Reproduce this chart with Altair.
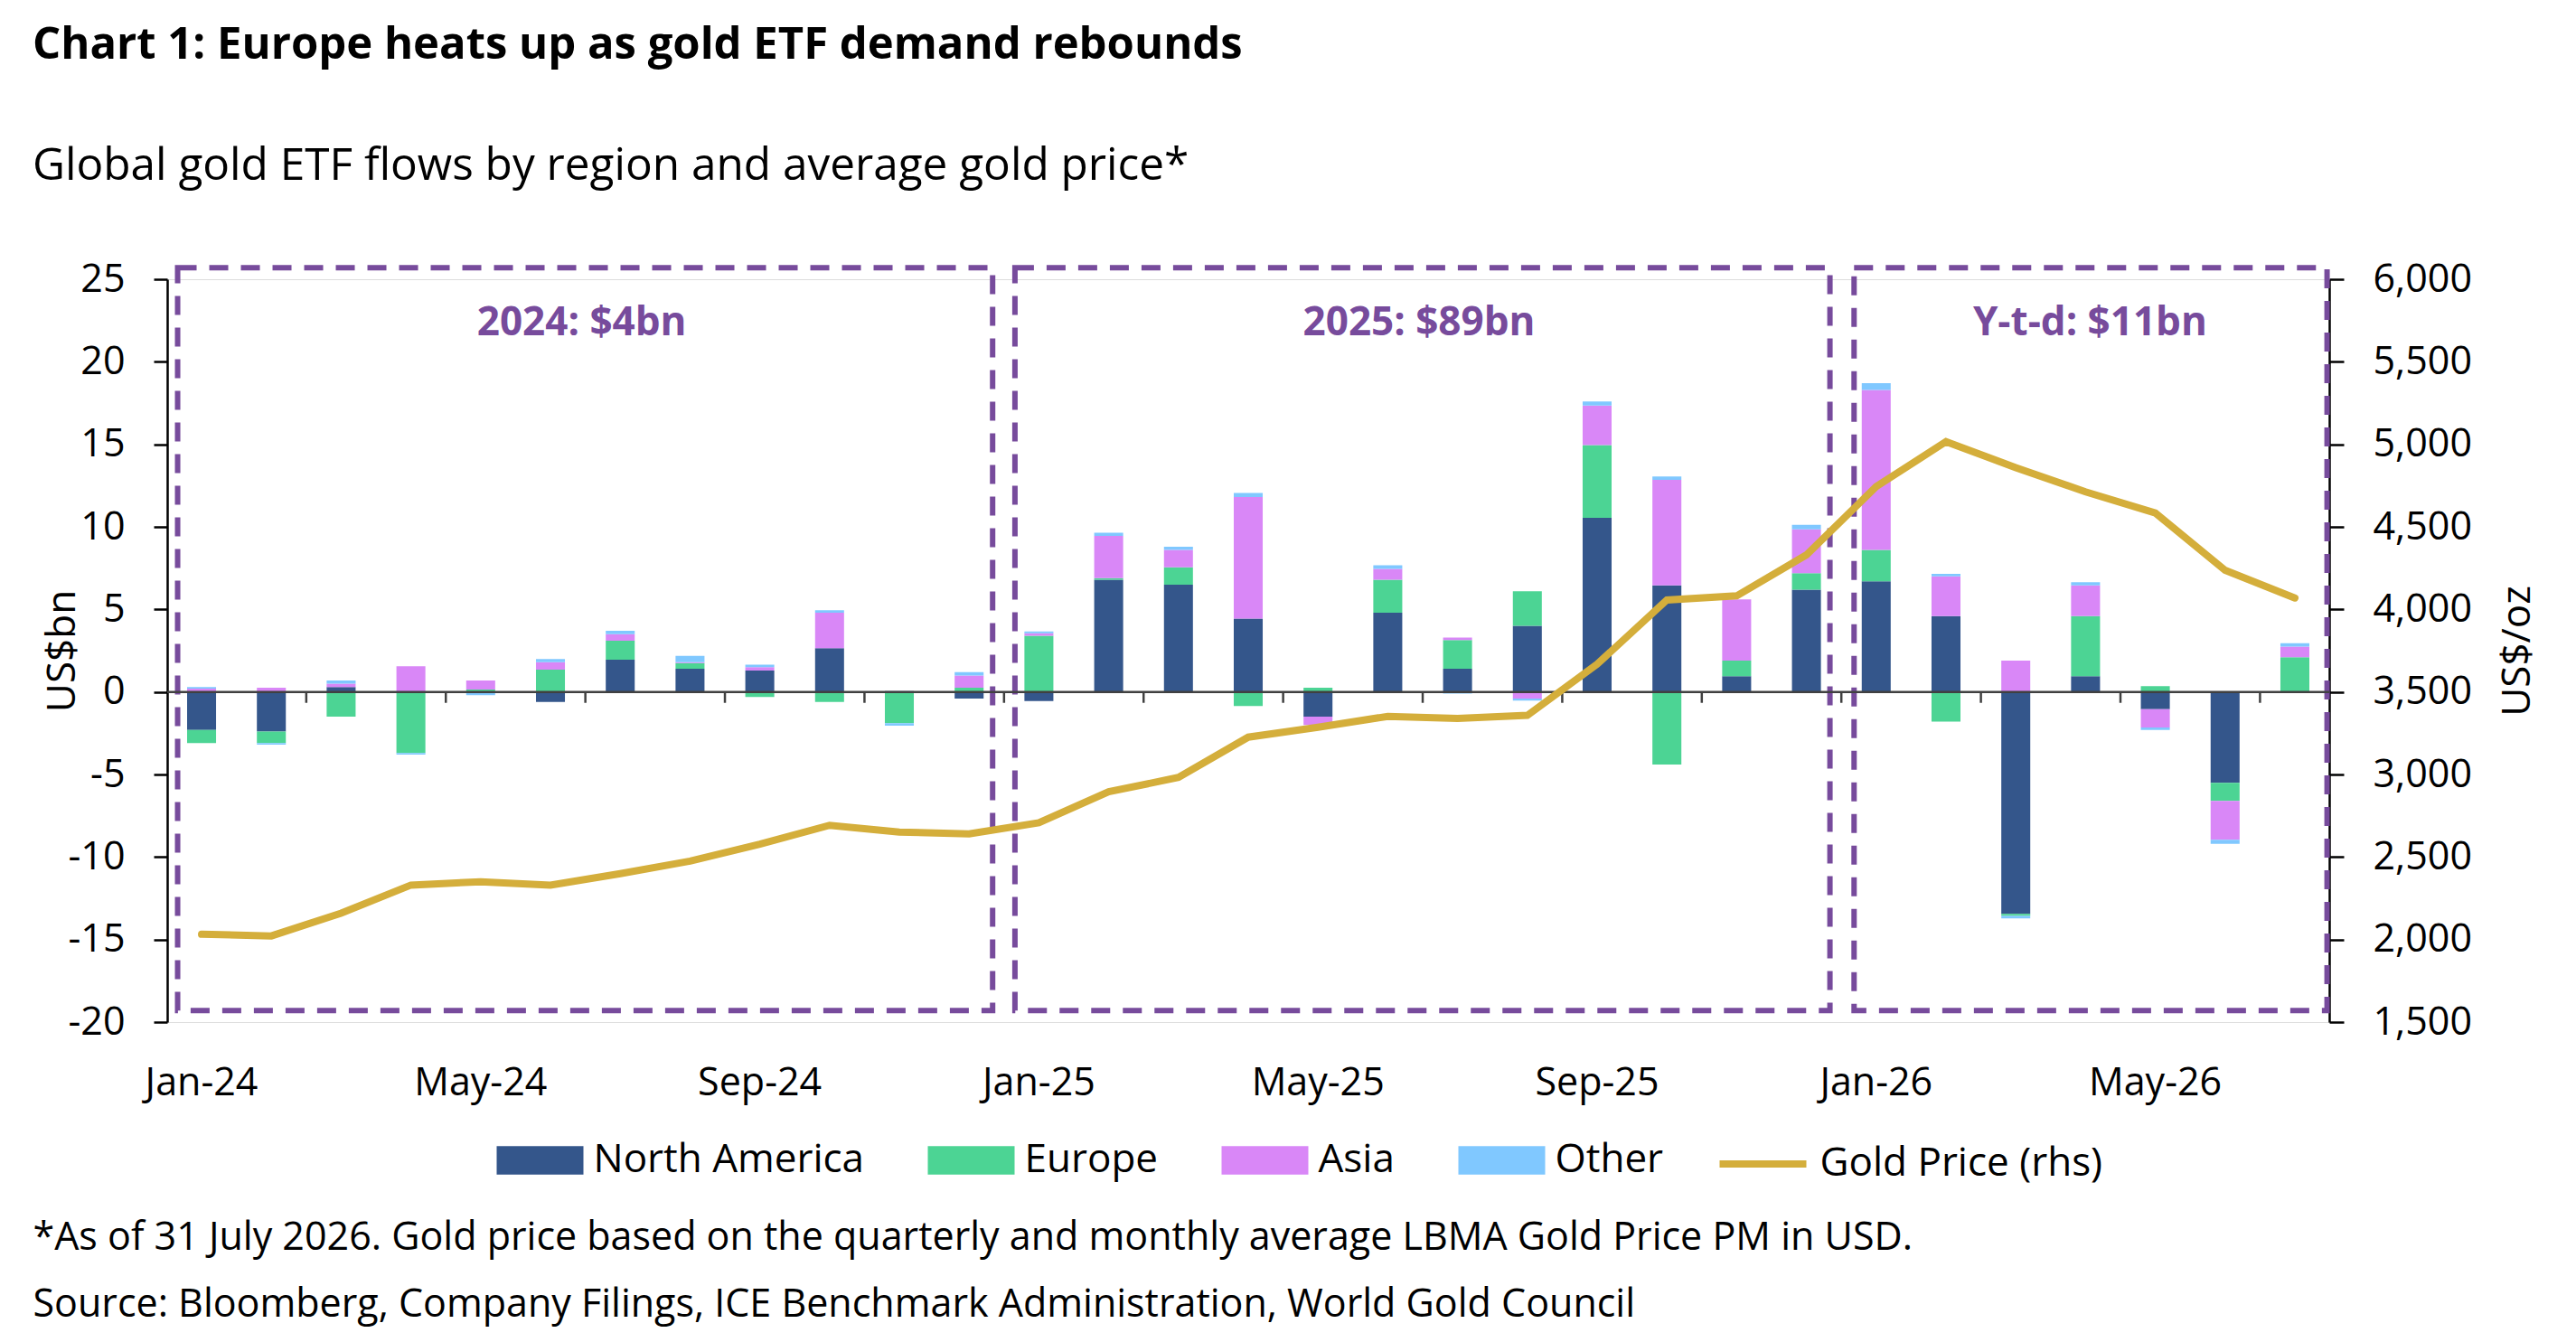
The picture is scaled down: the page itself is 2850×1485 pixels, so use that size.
import altair as alt
import pandas as pd

months = ['Jan-24', 'Feb-24', 'Mar-24', 'Apr-24', 'May-24', 'Jun-24', 'Jul-24', 'Aug-24',
          'Sep-24', 'Oct-24', 'Nov-24', 'Dec-24',
          'Jan-25', 'Feb-25', 'Mar-25', 'Apr-25', 'May-25', 'Jun-25', 'Jul-25', 'Aug-25',
          'Sep-25', 'Oct-25', 'Nov-25', 'Dec-25',
          'Jan-26', 'Feb-26', 'Mar-26', 'Apr-26', 'May-26', 'Jun-26', 'Jul-26']

north_america = [-2.3, -2.4, 0.3, 0.0, 0.0, -0.6, 1.95, 1.4, 1.3, 2.65, 0.05, -0.4,
                 -0.55, 6.8, 6.5, 4.45, -1.5, 4.8, 1.4, 4.0, 10.55, 6.45, 0.95, 6.2,
                 6.7, 4.6, -13.45, 0.95, -1.05, -5.5, 0.0]
europe = [-0.8, -0.7, -1.5, -3.7, 0.15, 1.35, 1.15, 0.35, -0.3, -0.6, -1.9, 0.25,
          3.4, 0.1, 1.05, -0.85, 0.25, 2.0, 1.75, 2.1, 4.4, -4.4, 0.95, 1.0,
          1.9, -1.8, -0.12, 3.65, 0.35, -1.1, 2.1]
asia = [0.2, 0.25, 0.2, 1.55, 0.55, 0.45, 0.4, 0.05, 0.2, 2.15, 0.0, 0.75,
        0.15, 2.55, 1.05, 7.35, -0.5, 0.65, 0.15, -0.4, 2.4, 6.4, 3.7, 2.65,
        9.7, 2.4, 1.9, 1.85, -1.1, -2.35, 0.65]
other = [0.1, -0.1, 0.2, -0.1, -0.2, 0.2, 0.2, 0.38, 0.15, 0.15, -0.15, 0.2,
         0.12, 0.2, 0.2, 0.25, 0.0, 0.22, -0.1, -0.12, 0.25, 0.2, 0.0, 0.28,
         0.4, 0.15, -0.15, 0.2, -0.15, -0.25, 0.2]
gold_price = [2032, 2022, 2160, 2330, 2350, 2330, 2399, 2475, 2578, 2692, 2651, 2640,
              2708, 2895, 2982, 3226, 3286, 3352, 3340, 3358, 3668, 4057, 4082, 4330,
              4744, 5016, 4859, 4712, 4584, 4237, 4069]

regions = ['North America', 'Europe', 'Asia', 'Other']
series_label = 'Gold Price (rhs)'
x_label_months = ['Jan-24', 'May-24', 'Sep-24', 'Jan-25', 'May-25', 'Sep-25', 'Jan-26', 'May-26']
tick_months = ['Feb-24', 'Apr-24', 'Jun-24', 'Aug-24', 'Oct-24', 'Dec-24',
               'Feb-25', 'Apr-25', 'Jun-25', 'Aug-25', 'Oct-25', 'Dec-25',
               'Feb-26', 'Apr-26', 'Jun-26']
box_start_a = ['Jan-24', 'Jan-25']
box_end_a = ['Dec-24', 'Dec-25']
box_start_b = ['Jan-26']
box_end_b = ['Jul-26']
label_anchor_a = ['Jun-24', 'Jun-25']
label_text_a = ['2024: $4bn', '2025: $89bn']
label_anchor_b = ['Apr-26']
label_text_b = ['Y-t-d: $11bn']

region_colors = ['#34568b', '#4cd494', '#d987f7', '#80c8ff']
gold_color = '#d4ae3b'
purple = '#774b9c'
FONT = 'Open Sans'
GAP = 22.6  # half of the inner band padding, in px

series = [north_america, europe, asia, other]
rows = []
for i, m in enumerate(months):
    for j, r in enumerate(regions):
        rows.append({'month': m, 'region': r, 'value': series[j][i], 'order': j})
bars_df = pd.DataFrame(rows)
gold_df = pd.DataFrame({'month': months, 'gold': gold_price, 'series': series_label})

xscale = alt.Scale(domain=months, paddingInner=0.585, paddingOuter=0.285)
yscale = alt.Scale(domain=[-20, 25], nice=False, zero=False)
y2scale = alt.Scale(domain=[1500, 6000], nice=False, zero=False)
cscale = alt.Scale(domain=regions, range=region_colors)
sscale = alt.Scale(domain=[series_label], range=[gold_color])

bar_legend = alt.Legend(
    orient='none', legendX=364.5, legendY=927, direction='horizontal', title=None,
    symbolType='M-1,-0.33L1,-0.33L1,0.33L-1,0.33Z', symbolSize=9216,
    symbolStrokeWidth=0, symbolOpacity=1,
    labelFontSize=44, labelFont=FONT, labelColor='black',
    labelOffset=11, columnPadding=70, labelLimit=2000, padding=0)

line_legend = alt.Legend(
    orient='none', legendX=1713.5, legendY=927, direction='horizontal', title=None,
    symbolType='stroke', symbolSize=9216, symbolStrokeWidth=8, symbolOpacity=1,
    labelFontSize=44, labelFont=FONT, labelColor='black',
    labelOffset=11, labelLimit=2000, padding=0)

xaxis = alt.Axis(values=x_label_months, domain=False, ticks=False, tickSize=0,
                 labelPadding=80, labelBaseline='alphabetic', labelFontSize=43,
                 labelFont=FONT, labelAngle=0, title=None, labelColor='black', grid=False)

yaxis = alt.Axis(values=list(range(-20, 26, 5)), labelExpr="'' + datum.value",
                 title='US$bn', titleX=-115.5, titleY=411, titleAngle=-90,
                 titleBaseline='middle', titleAlign='center', titleFontSize=44,
                 titleFont=FONT, titleFontWeight='normal', titleColor='black',
                 labelFontSize=43, labelFont=FONT, labelColor='black', labelPadding=32,
                 tickSize=15, tickWidth=2.5, tickColor='black', domainWidth=2.5,
                 domainColor='black', grid=False, orient='left')

y2axis = alt.Axis(values=list(range(1500, 6001, 500)), labelExpr="format(datum.value, ',')",
                  title='US$/oz', titleX=208, titleY=411, titleAngle=-90,
                  titleBaseline='middle', titleAlign='center', titleFontSize=44,
                  titleFont=FONT, titleFontWeight='normal', titleColor='black',
                  labelFontSize=43, labelFont=FONT, labelColor='black', labelPadding=32,
                  tickSize=16, tickWidth=2.5, tickColor='black', domainWidth=2.5,
                  domainColor='black', grid=False, orient='right')


def xenc(field, **kw):
    return alt.X(field, scale=xscale, axis=xaxis, **kw)


bars = alt.Chart(bars_df).mark_bar().encode(
    x=xenc('month:O'),
    y=alt.Y('value:Q', stack='zero', scale=yscale, axis=yaxis),
    color=alt.Color('region:N', scale=cscale, legend=bar_legend),
    order=alt.Order('order:Q'),
)

boxes_a = alt.Chart(pd.DataFrame({'start': box_start_a, 'end': box_end_a})).mark_rect(
    fill='white', fillOpacity=0, stroke=purple, strokeWidth=6, strokeDash=[21, 14],
    xOffset=-26.5, x2Offset=26).encode(
    x=xenc('start:O'),
    x2='end:O',
    y=alt.Y(datum=25.7, scale=yscale, axis=yaxis),
    y2=alt.Y2(datum=-19.3),
)
boxes_b = alt.Chart(pd.DataFrame({'start': box_start_b, 'end': box_end_b})).mark_rect(
    fill='white', fillOpacity=0, stroke=purple, strokeWidth=6, strokeDash=[21, 14],
    xOffset=-24.5, x2Offset=35.6).encode(
    x=xenc('start:O'),
    x2='end:O',
    y=alt.Y(datum=25.7, scale=yscale, axis=yaxis),
    y2=alt.Y2(datum=-19.3),
)

text_a = alt.Chart(pd.DataFrame({'anchor': label_anchor_a, 'label': label_text_a})).mark_text(
    font=FONT, fontSize=44, fontWeight='bold', color=purple, baseline='middle',
    align='center', dx=GAP - 4).encode(
    x=xenc('anchor:O', bandPosition=1),
    y=alt.Y(datum=22.3, scale=yscale, axis=yaxis),
    text='label:N',
)
text_b = alt.Chart(pd.DataFrame({'anchor': label_anchor_b, 'label': label_text_b})).mark_text(
    font=FONT, fontSize=44, fontWeight='bold', color=purple, baseline='middle',
    align='center', dx=5).encode(
    x=xenc('anchor:O'),
    y=alt.Y(datum=22.3, scale=yscale, axis=yaxis),
    text='label:N',
)

zero_rule = alt.Chart(pd.DataFrame({'y': [0]})).mark_rule(color='#404040', strokeWidth=2.5).encode(
    y=alt.Y('y:Q', scale=yscale, axis=yaxis)
)
zero_ticks = alt.Chart(pd.DataFrame({'month': tick_months})).mark_rule(
    color='#404040', strokeWidth=2.5, xOffset=GAP).encode(
    x=xenc('month:O', bandPosition=1),
    y=alt.Y(datum=0, scale=yscale, axis=yaxis),
    y2=alt.Y2(datum=-0.66),
)

left = alt.layer(boxes_a, boxes_b, bars, zero_rule, zero_ticks, text_a, text_b)

line = alt.Chart(gold_df).mark_line(strokeWidth=8, strokeCap='round').encode(
    x=xenc('month:O'),
    y=alt.Y('gold:Q', scale=y2scale, axis=y2axis),
    stroke=alt.Stroke('series:N', scale=sscale, legend=line_legend),
)

combined = alt.layer(left, line).resolve_scale(y='independent').properties(
    width=2392, height=822,
    title=alt.TitleParams(
        text=['*As of 31 July 2026. Gold price based on the quarterly and monthly average LBMA Gold Price PM in USD.',
              'Source: Bloomberg, Company Filings, ICE Benchmark Administration, World Gold Council'],
        orient='bottom', anchor='start', frame='group', dx=-148.5, fontSize=43,
        font=FONT, fontWeight='normal', color='black', lineHeight=74, offset=129),
)

chart = alt.vconcat(combined).properties(
    title=alt.TitleParams(
        text='Chart 1: Europe heats up as gold ETF demand rebounds',
        subtitle='Global gold ETF flows by region and average gold price*',
        anchor='start', frame='bounds', fontSize=49, font=FONT, fontWeight='bold',
        color='black', subtitleFontSize=49.5, subtitleFont=FONT, subtitleColor='black',
        subtitleFontWeight='normal', subtitlePadding=85, offset=79),
    padding={'left': 28, 'top': 18, 'right': 10, 'bottom': 6},
).configure_view(stroke=None).configure(font=FONT)

chart.save('out.html', embed_options={'renderer': 'svg', 'actions': False})
